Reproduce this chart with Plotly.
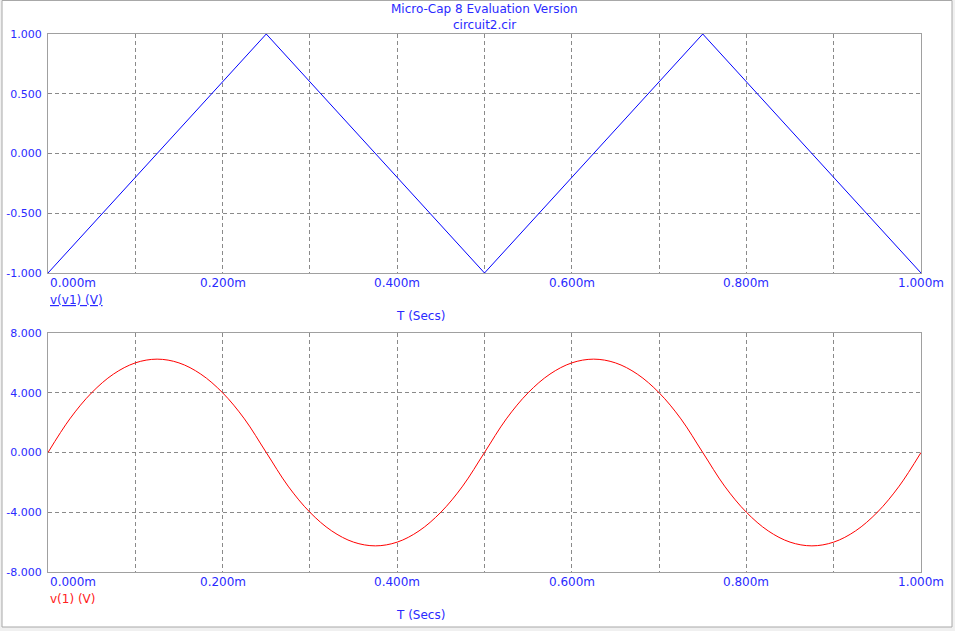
import plotly.graph_objects as go

# ---- data ----
t_v1 = [0.0, 0.25, 0.5, 0.75, 1.0]          # ms
v_v1 = [-1.0, 1.0, -1.0, 1.0, -1.0]          # V

t_1 = [0.000, 0.025, 0.050, 0.075, 0.100, 0.125, 0.150, 0.175, 0.200, 0.225,
       0.250, 0.275, 0.300, 0.325, 0.350, 0.375, 0.400, 0.425, 0.450, 0.475,
       0.500, 0.525, 0.550, 0.575, 0.600, 0.625, 0.650, 0.675, 0.700, 0.725,
       0.750, 0.775, 0.800, 0.825, 0.850, 0.875, 0.900, 0.925, 0.950, 0.975,
       1.000]
v_1 = [0.0, 2.25, 4.0, 5.25, 6.0, 6.25, 6.0, 5.25, 4.0, 2.25,
       0.0, -2.25, -4.0, -5.25, -6.0, -6.25, -6.0, -5.25, -4.0, -2.25,
       0.0, 2.25, 4.0, 5.25, 6.0, 6.25, 6.0, 5.25, 4.0, 2.25,
       0.0, -2.25, -4.0, -5.25, -6.0, -6.25, -6.0, -5.25, -4.0, -2.25,
       0.0]

x_grid_vals = [0.0, 0.1, 0.2, 0.3, 0.4, 0.5, 0.6, 0.7, 0.8, 0.9, 1.0]
x_label_vals = [0.0, 0.2, 0.4, 0.6, 0.8, 1.0]
x_label_text = ["0.000m", "0.200m", "0.400m", "0.600m", "0.800m", "1.000m"]
y1_vals = [-1.0, -0.5, 0.0, 0.5, 1.0]
y1_text = ["-1.000", "-0.500", "0.000", "0.500", "1.000"]
y2_vals = [-8.0, -4.0, 0.0, 4.0, 8.0]
y2_text = ["-8.000", "-4.000", "0.000", "4.000", "8.000"]

title_lines = ["Micro-Cap 8 Evaluation Version", "circuit2.cir"]
top_label = "v(v1) (V)"
bottom_label = "v(1) (V)"
x_title = "T (Secs)"

# ---- styling ----
FONT = "DejaVu Sans"
TXT = "#2a2aff"
GRID = "#8a8a8a"
FRAME = "#a0a0a0"
W, H = 955, 631
ML, MR, MT, MB = 48, 34, 34, 59
PW = W - ML - MR
PH = H - MT - MB
gap_px = 60
sub_h = (PH - gap_px) / 2

fig = go.Figure()
fig.add_trace(go.Scatter(x=t_v1, y=v_v1, mode="lines",
                         line=dict(color="#0000ff", width=1),
                         xaxis="x", yaxis="y", showlegend=False))
fig.add_trace(go.Scatter(x=t_1, y=v_1, mode="lines",
                         line=dict(color="#ff0000", width=1, shape="spline", smoothing=1.0),
                         xaxis="x2", yaxis="y2", showlegend=False))

axis_common = dict(showgrid=True, gridcolor=GRID, griddash="4px,3px", gridwidth=1,
                   showline=True, linecolor=FRAME, linewidth=1, mirror=True,
                   zeroline=False, ticks="", fixedrange=True, automargin=False)

fig.update_layout(
    width=W, height=H,
    margin=dict(l=ML, r=MR, t=MT, b=MB, pad=0, autoexpand=False),
    paper_bgcolor="#f0f0f0", plot_bgcolor="white",
    font=dict(family=FONT, size=11, color=TXT),
    xaxis=dict(domain=[0, 1], anchor="y", range=[0, 1.0], tickvals=x_grid_vals,
               showticklabels=False, **axis_common),
    yaxis=dict(domain=[1 - sub_h / PH, 1], anchor="x", range=[-1.0, 1.0],
               tickvals=y1_vals, ticktext=y1_text, ticklabelstandoff=3,
               tickfont=dict(family=FONT, size=11, color=TXT), **axis_common),
    xaxis2=dict(domain=[0, 1], anchor="y2", range=[0, 1.0], tickvals=x_grid_vals,
                showticklabels=False, **axis_common),
    yaxis2=dict(domain=[0, sub_h / PH], anchor="x2", range=[-8.0, 8.0],
                tickvals=y2_vals, ticktext=y2_text, ticklabelstandoff=3,
                tickfont=dict(family=FONT, size=11, color=TXT), **axis_common),
)

# window frame
def px_x(p):
    return (p - ML) / PW

def px_y(p):
    return (H - MB - p) / PH

fig.add_shape(type="rect", xref="paper", yref="paper",
              x0=px_x(2), x1=px_x(952), y0=px_y(627), y1=px_y(0.5),
              fillcolor="white", line=dict(color="#a8a8a8", width=1), layer="below")

ann = []
# title
for i, line in enumerate(title_lines):
    ann.append(dict(text=line, xref="paper", yref="paper", x=0.5,
                    y=px_y(9 + 16 * i), xanchor="center", yanchor="middle",
                    showarrow=False, font=dict(family=FONT, size=12, color=TXT)))

# x tick labels, per subplot
for xa, ya in (("x", "y domain"), ("x2", "y2 domain")):
    for i, (v, s) in enumerate(zip(x_label_vals, x_label_text)):
        ann.append(dict(text=s, xref=xa, yref=ya, x=v, y=0,
                        xanchor="left" if i == 0 else "center", yanchor="middle",
                        yshift=-10, showarrow=False,
                        font=dict(family=FONT, size=12, color=TXT)))
    ann.append(dict(text=x_title, xref=xa + " domain", yref=ya,
                    x=0.427, y=0, xanchor="center", yanchor="middle", yshift=-43,
                    showarrow=False, font=dict(family=FONT, size=12, color=TXT)))

ann.append(dict(text="<u>" + top_label + "</u>", xref="x domain", yref="y domain",
                x=0, y=0, xanchor="left", yanchor="middle", yshift=-27,
                showarrow=False, font=dict(family=FONT, size=12, color=TXT)))
ann.append(dict(text=bottom_label, xref="x2 domain", yref="y2 domain",
                x=0, y=0, xanchor="left", yanchor="middle", yshift=-27,
                showarrow=False, font=dict(family=FONT, size=12, color="#ff2020")))

fig.update_layout(annotations=ann)
fig.write_html("out.html", config={"displayModeBar": False},
               post_script="document.body.style.margin='0';"
                           "document.body.style.overflow='hidden';")
